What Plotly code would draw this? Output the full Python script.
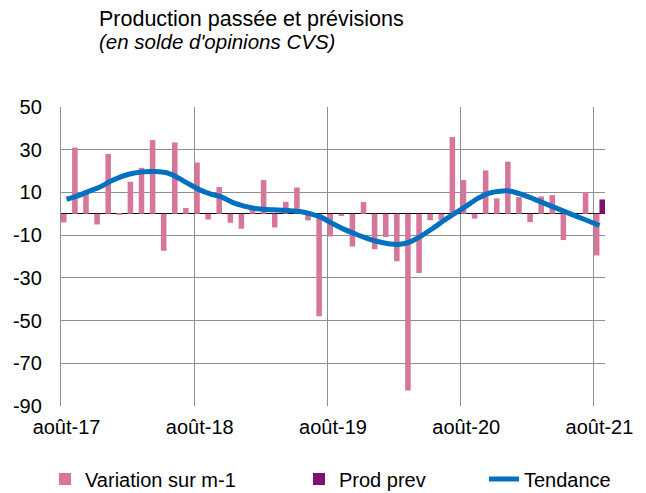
import plotly.graph_objects as go

# ---- data ----
months = list(range(49))  # août-17 .. août-21, monthly index
tick_positions = [0, 12, 24, 36, 48]
tick_labels = ["août-17", "août-18", "août-19", "août-20", "août-21"]
year_boundaries = [11.5, 23.5, 35.5, 47.5]

variation = [-4, 31, 11, -5, 28, -0.5, 15, 21.5, 34.5, -17.3, 33.4, 2.7,
             24, -2.7, 12.5, -4.2, -7, 2.3, 15.8, -6.4, 5.6, 12.3, -3.1, -48,
             -10.6, -1, -15.3, 5.5, -16.6, -10.9, -22.2, -82.7, -27.7, -3, -2.8, 35.9,
             15.8, -2.3, 20.3, 7.2, 24.4, 7.8, -3.9, 8.1, 8.75, -12.3, 0, 10,
             -19.5]

prod_prev_x = [48]
prod_prev = [6.7]

tendance = [6.8, 8.4, 10.5, 12.5, 15.3, 17.5, 19.0, 19.7, 19.8, 19.2, 17.0, 14.0,
            11.2, 9.2, 7.8, 5.2, 3.6, 2.5, 2.0, 1.8, 1.5, 1.1, 0.0, -1.8,
            -4.7, -7.3, -9.4, -11.4, -13.0, -14.0, -14.3, -13.0, -10.2, -6.8, -3.1, 0.3,
            3.6, 7.1, 9.6, 10.6, 10.6, 9.1, 7.1, 5.0, 2.9, 0.8, -1.3, -3.4,
            -5.5]

y_ticks = [-90, -70, -50, -30, -10, 10, 30, 50]
y_tick_labels = ["-90", "-70", "-50", "-30", "-10", "10", "30", "50"]

PINK = "#d5769a"
PURPLE = "#7a1470"
BLUE = "#0070c0"
GRID = "#8f8f8f"
FONT = "Liberation Sans, Arial, sans-serif"

fig = go.Figure()
fig.add_trace(go.Bar(x=months, y=variation, width=0.5, offset=-0.5,
                     marker=dict(color=PINK, line=dict(width=0)),
                     name="Variation sur m-1", legend="legend"))
fig.add_trace(go.Bar(x=prod_prev_x, y=prod_prev, width=0.5, offset=0,
                     marker=dict(color=PURPLE, line=dict(width=0)),
                     name="Prod prev", legend="legend2"))
fig.add_trace(go.Scatter(x=months, y=tendance, mode="lines",
                         line=dict(color=BLUE, width=5, shape="spline", smoothing=0.6),
                         name="Tendance", legend="legend3"))

L, R, T, B = 61, 41, 107, 87
W, H = 646, 493
pw, ph = W - L - R, H - T - B

def px_x(p):
    return (p - L) / pw

def px_y(p):
    return (H - B - p) / ph

legend_common = dict(orientation="h", yanchor="middle", y=px_y(479), xanchor="left",
                     font=dict(family=FONT, size=20, color="#000"),
                     bgcolor="rgba(0,0,0,0)")

fig.update_layout(
    width=W, height=H,
    margin=dict(l=L, r=R, t=T, b=B, autoexpand=False),
    paper_bgcolor="white", plot_bgcolor="white",
    barmode="overlay",
    font=dict(family=FONT, size=20, color="#000"),
    showlegend=True,
    legend=dict(x=px_x(45), **legend_common),
    legend2=dict(x=px_x(299), **legend_common),
    legend3=dict(x=px_x(484), **legend_common),
    xaxis=dict(range=[-0.5, 48.5], tickmode="array", tickvals=tick_positions,
               ticktext=tick_labels, showgrid=False, zeroline=False,
               ticks="outside", ticklen=3, tickcolor="rgba(0,0,0,0)",
               tickfont=dict(family=FONT, size=20, color="#000"),
               minor=dict(tickvals=year_boundaries, showgrid=True,
                          gridcolor=GRID, gridwidth=1.3, ticks=""),
               showline=False, automargin=False),
    yaxis=dict(range=[-90, 50], tickmode="array", tickvals=y_ticks,
               ticktext=y_tick_labels,
               showgrid=True, gridcolor=GRID, gridwidth=1.3,
               zeroline=True, zerolinecolor="#000", zerolinewidth=1,
               showline=True, linecolor=GRID, linewidth=1.3,
               ticks="outside", ticklen=14, tickcolor="rgba(0,0,0,0)",
               tickfont=dict(family=FONT, size=20, color="#000"),
               automargin=False),
    annotations=[
        dict(text="Production passée et prévisions", xref="paper", yref="paper",
             x=px_x(97), y=px_y(19), xanchor="left", yanchor="middle",
             showarrow=False, font=dict(family=FONT, size=21.5, color="#000")),
        dict(text="<i>(en solde d'opinions CVS)</i>", xref="paper", yref="paper",
             x=px_x(97), y=px_y(42), xanchor="left", yanchor="middle",
             showarrow=False, font=dict(family=FONT, size=20.5, color="#000")),
    ],
)

fig.write_html("out.html",
               config={"displayModeBar": False},
               post_script="document.body.style.margin='0';document.body.style.overflow='hidden';")
